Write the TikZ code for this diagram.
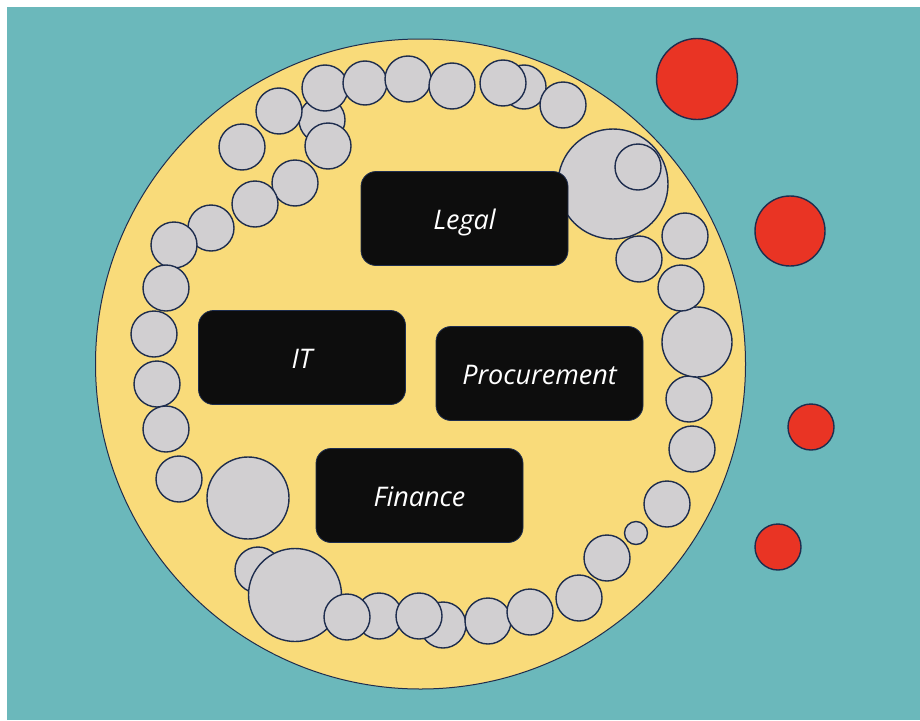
\documentclass[tikz,border=0pt]{standalone}
\usepackage{fontspec}
\setmainfont{Open Sans}
\definecolor{seateal}{HTML}{6BB8BB}
\definecolor{sunyellow}{HTML}{F9DB7A}
\definecolor{bubblegrey}{HTML}{D1CFD1}
\definecolor{alertred}{HTML}{E93424}
\definecolor{edgenavy}{HTML}{1E2D4E}
\definecolor{boxblack}{HTML}{0D0D0D}
\begin{document}
\begin{tikzpicture}[x=1pt,y=-1pt,
  bubble/.style={fill=bubblegrey,draw=edgenavy,line width=1.4pt},
  alert/.style={fill=alertred,draw=edgenavy,line width=1.4pt},
  dept/.style={fill=boxblack,draw=edgenavy,line width=0.8pt,rounded corners=15pt,
    minimum width=207pt,minimum height=94pt,inner sep=0pt,text=white,
    text height=21pt,text depth=0pt,
    font=\itshape\fontsize{27}{32}\selectfont}]
\useasboundingbox (0,0) rectangle (920,720);
% page and backdrop
\fill[white] (0,0) rectangle (920,720);
\fill[seateal] (7,7) rectangle (920,720);
% the organisation
\draw[fill=sunyellow,draw=edgenavy,line width=1pt] (420.5,364) circle (325);
% members around the rim
\foreach \x/\y/\r in {
  524/87/22, 503/83/23, 563/105/23, 322/120/23, 325/88/23, 365/83/22,
  408/79/23, 452/86/23, 328/146/23, 279/111/23, 242/147/23, 295/183/23,
  255/204/23, 211/228/23, 174/245/23, 166/288/23, 154/334/23, 157/384/23,
  166/429/23, 179/479/23, 248/498/41, 258/570/23, 295/595/46.5,
  379/616/23, 443/625/23, 347/617/23, 419/616/23, 488/621/23, 530/612/23,
  579/598/23, 607/558/23, 636/533/11.5, 667/504/23, 692/449/23, 689/399/23,
  697/342/35, 681/288/23, 685/236/23, 613/184/55, 639/259/23, 638/167/23}
  \draw[bubble] (\x,\y) circle (\r);
% outsiders
\draw[alert] (697,79) circle (40.5);
\draw[alert] (790,231) circle (35);
\draw[alert] (811,427) circle (23);
\draw[alert] (778,547) circle (23);
% departments
\node[dept] (legal) at (464.5,218.5) {Legal};
\node[dept] (it) at (302,357.5) {IT};
\node[dept] (procurement) at (539.5,373.5) {Procurement};
\node[dept] (finance) at (419.5,495.5) {Finance};
\end{tikzpicture}
\end{document}
